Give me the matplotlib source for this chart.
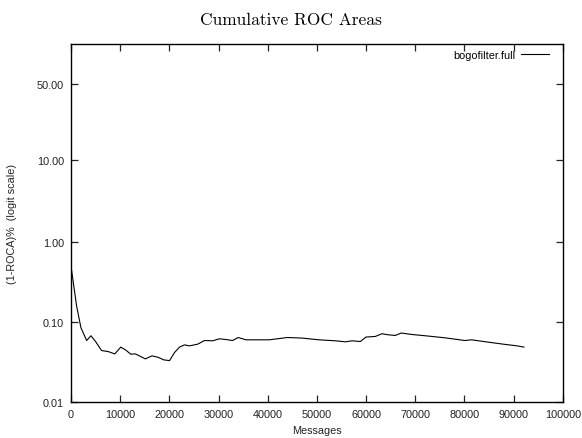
import numpy as np
import matplotlib
matplotlib.use("Agg")
import matplotlib.pyplot as plt
from matplotlib.ticker import FixedLocator, FixedFormatter

# cumulative (1-ROCA)%
messages = [0, 1150, 2020, 3180, 4050, 5000, 6210, 7550, 8900, 10120,
            11070, 12150, 13100, 15120, 16460, 17670, 18890, 20040, 21050, 22060,
            23080, 24090, 25770, 27130, 28810, 30160, 31520, 32850, 34010, 35570,
            38260, 40280, 41960, 43990, 47020, 50400, 53790, 55810, 57150, 58850,
            59980, 61880, 63220, 64430, 65930, 67150, 69290, 72670, 76050, 80100,
            81440, 84820, 87850, 90750, 92100]
roca = [0.507, 0.159, 0.0857, 0.0592, 0.0679, 0.0575, 0.0443, 0.0430, 0.0402, 0.0489,
        0.0452, 0.0399, 0.0402, 0.0348, 0.0380, 0.0365, 0.0338, 0.0331, 0.0418, 0.0489,
        0.0522, 0.0507, 0.0533, 0.0592, 0.0587, 0.0622, 0.0609, 0.0592, 0.0646, 0.0604,
        0.0604, 0.0604, 0.0622, 0.0646, 0.0635, 0.0604, 0.0587, 0.0570, 0.0587, 0.0575,
        0.0654, 0.0666, 0.0720, 0.0699, 0.0685, 0.0735, 0.0705, 0.0673, 0.0640, 0.0592,
        0.0604, 0.0565, 0.0533, 0.0507, 0.0489]

ytick_vals = [0.01, 0.10, 1.00, 10.00, 50.00]
xtick_vals = list(range(0, 100001, 10000))


def fwd(v):                                   # percent -> logit
    p = np.clip(np.asarray(v, dtype=float) / 100.0, 1e-12, 1 - 1e-12)
    return np.log(p / (1 - p))


def inv(t):                                   # logit -> percent
    return 100.0 / (1.0 + np.exp(-np.asarray(t, dtype=float)))


plt.rcParams['font.family'] = ['Liberation Sans', 'DejaVu Sans']
fig = plt.figure(figsize=(5.82, 4.39), dpi=100)
ax = fig.add_axes([0.122, 0.082, 0.845, 0.816])

ax.plot(messages, roca, color='black', lw=0.8, label='bogofilter.full')

ax.set_yscale('function', functions=(fwd, inv))
ax.set_ylim(0.01, 76)
ax.set_xlim(0, 100000)
ax.yaxis.set_major_locator(FixedLocator(ytick_vals))
ax.yaxis.set_major_formatter(FixedFormatter(['%.2f' % v for v in ytick_vals]))
ax.yaxis.set_minor_locator(FixedLocator([]))
ax.set_xticks(xtick_vals)
ax.set_xticklabels([str(v) for v in xtick_vals])

ax.tick_params(direction='in', length=5, width=0.9, labelsize=7.8,
               top=True, right=True, pad=5, colors='#222222')
for s in ax.spines.values():
    s.set_linewidth(1.0)

ax.set_xlabel('Messages', fontsize=7.8, labelpad=4, color='#222222')
ax.set_ylabel('(1-ROCA)%  (logit scale)', fontsize=7.8, labelpad=14,
              color='#222222')
fig.text(0.5, 0.953, 'Cumulative ROC Areas', ha='center', va='center',
         fontsize=12.5, family='cmr10')

ax.legend(loc='upper right', bbox_to_anchor=(0.985, 1.0), frameon=False,
          fontsize=7.8, markerfirst=False, handlelength=2.6,
          borderaxespad=0.2, handletextpad=0.5)

fig.savefig('out.png', dpi=100)
